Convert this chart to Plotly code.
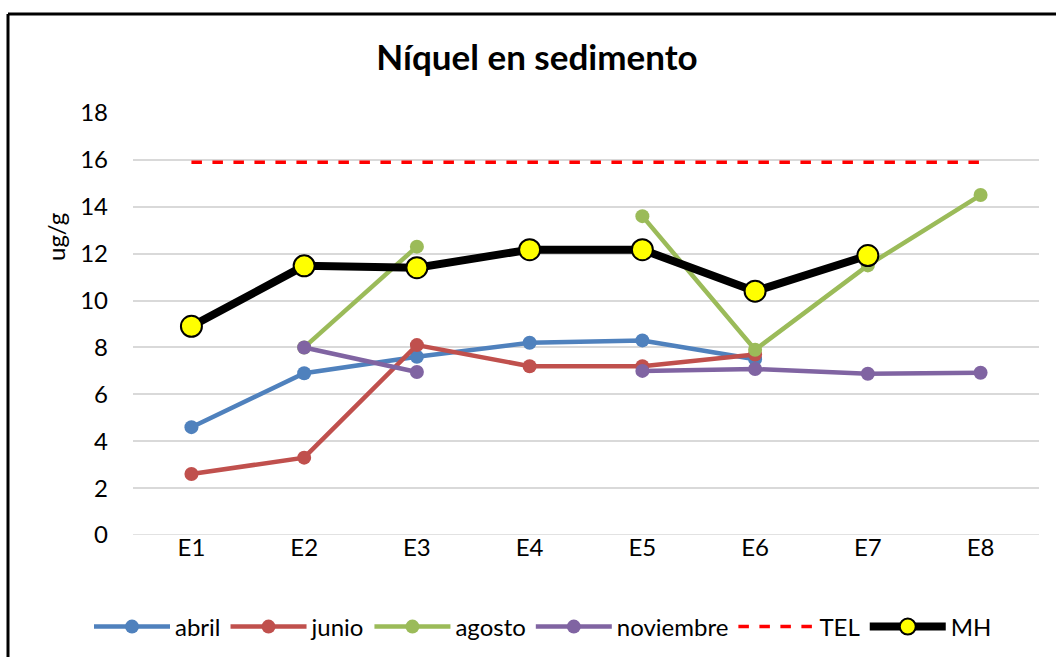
import plotly.graph_objects as go

categories = ["E1", "E2", "E3", "E4", "E5", "E6", "E7", "E8"]
abril = [4.6, 6.9, 7.6, 8.2, 8.3, 7.5, None, None]
junio = [2.6, 3.3, 8.1, 7.2, 7.2, 7.7, None, None]
agosto = [None, 8.0, 12.3, None, 13.6, 7.9, 11.5, 14.5]
noviembre = [None, 8.0, 6.95, None, 7.0, 7.08, 6.88, 6.92]
tel = [15.9] * 8
mh = [8.9, 11.48, 11.4, 12.17, 12.17, 10.4, 11.92, None]

FONT = "Lato"
FS = 24
fig = go.Figure()

def add_series(name, vals, color):
    fig.add_trace(go.Scatter(
        x=categories, y=vals, name=name, mode="lines+markers",
        line=dict(color=color, width=4.5),
        marker=dict(color=color, size=14),
        connectgaps=False,
    ))

add_series("abril", abril, "#4F81BD")
add_series("junio", junio, "#C0504D")
add_series("agosto", agosto, "#9BBB59")
add_series("noviembre", noviembre, "#8064A2")

fig.add_trace(go.Scatter(
    x=categories, y=tel, name="TEL", mode="lines",
    line=dict(color="#FF0000", width=3.5, dash="dash"),
))
fig.add_trace(go.Scatter(
    x=categories, y=mh, name="MH", mode="lines+markers",
    line=dict(color="#000000", width=8),
    marker=dict(color="#FFFF00", size=21, line=dict(color="#000000", width=2)),
    connectgaps=False,
))

L, R, T, B = 133, 17, 113, 122
W, H = 1056, 657
pw, ph = W - L - R, H - T - B

def px(xp):
    return (xp - L) / pw

def py(yp):
    return (H - B - yp) / ph

fig.update_layout(
    width=W, height=H,
    margin=dict(l=L, r=R, t=T, b=B, autoexpand=False),
    paper_bgcolor="white", plot_bgcolor="white",
    font=dict(family=FONT, size=FS, color="#000000"),
    title=dict(text="<b>Níquel en sedimento</b>", x=px(537), xref="paper",
               xanchor="center", y=1 - 58 / H, yanchor="middle",
               font=dict(family=FONT, size=35, color="#000000")),
    showlegend=True,
    legend=dict(orientation="h", xref="container", yref="container",
                x=543 / W, xanchor="center", y=1 - 627 / H,
                yanchor="middle", font=dict(family=FONT, size=FS),
                itemwidth=76, traceorder="normal",
                bgcolor="rgba(0,0,0,0)"),
    xaxis=dict(type="category", showgrid=False, showline=False, zeroline=False,
               ticks="", tickfont=dict(family=FONT, size=FS), ticklabelstandoff=-4),
    yaxis=dict(range=[0, 18], dtick=2, tick0=0, showgrid=True, gridcolor="#D9D9D9",
               gridwidth=1.5, zeroline=False, showline=False, ticks="",
               tickfont=dict(family=FONT, size=FS), ticklabelstandoff=24),
)

fig.add_annotation(text="ug/g", textangle=-90, xref="paper", yref="paper",
                   x=px(55), y=py(237), xanchor="center", yanchor="middle",
                   showarrow=False, font=dict(family=FONT, size=FS))

# baseline gridline at 0
fig.add_shape(type="line", xref="paper", yref="y", x0=0, x1=1, y0=0, y1=0,
              line=dict(color="#D9D9D9", width=1.5), layer="below")

# chart border (top and left visible)
fig.add_shape(type="line", xref="paper", yref="paper",
              x0=px(8), x1=px(1060), y0=py(14), y1=py(14),
              line=dict(color="#000000", width=3))
fig.add_shape(type="line", xref="paper", yref="paper",
              x0=px(8), x1=px(8), y0=py(14), y1=py(660),
              line=dict(color="#000000", width=3))

fig.write_html("out.html", config={"displayModeBar": False},
               post_script="document.body.style.margin='0';document.body.style.overflow='hidden';")
